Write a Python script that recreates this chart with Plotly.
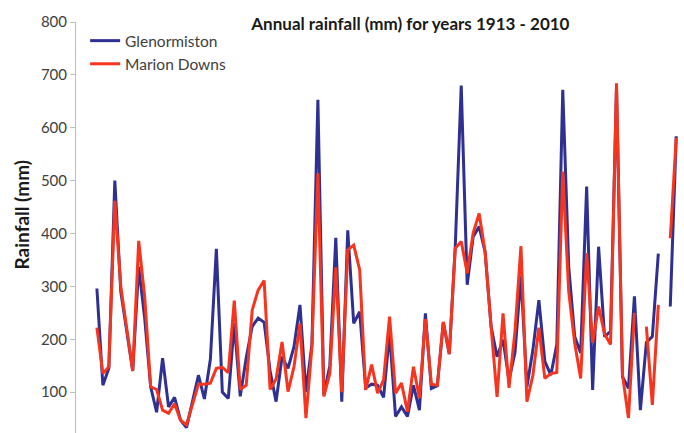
import plotly.graph_objects as go

years = list(range(1913, 2011))

glenormiston = [
    296, 113, 145, 500, 290, 210, 140, 337, 240, 110,
    62, 164, 72, 90, 47, 33, 80, 132, 87, 162,
    371, 100, 88, 230, 92, 165, 224, 240, 232, 140,
    82, 167, 145, 186, 265, 100, 190, 653, 95, 150,
    392, 82, 406, 230, 252, 108, 115, 113, 90, 212,
    54, 72, 54, 113, 66, 249, 107, 112, 232, 172,
    375, 680, 303, 394, 413, 365, 224, 167, 199, 123,
    175, 320, 110, 180, 274, 158, 132, 190, 672, 337,
    205, 174, 489, 104, 375, 205, 215, 675, 129, 107,
    281, 66, 194, 205, 362, None, 262, 584,
]

marion_downs = [
    222, 135, 148, 462, 300, 220, 140, 386, 280, 110,
    105, 66, 60, 78, 47, 38, 78, 115, 115, 117,
    145, 147, 137, 273, 105, 113, 255, 293, 311, 105,
    125, 195, 101, 148, 230, 51, 185, 514, 92, 135,
    336, 100, 369, 378, 331, 104, 152, 98, 123, 243,
    98, 117, 63, 148, 89, 238, 115, 113, 233, 172,
    372, 385, 325, 401, 438, 365, 224, 91, 249, 108,
    215, 376, 82, 132, 222, 126, 135, 137, 517, 290,
    193, 126, 363, 193, 262, 210, 190, 684, 133, 51,
    250, None, 224, 76, 265, None, 391, 581,
]

y_ticks = [100, 200, 300, 400, 500, 600, 700, 800]

fig = go.Figure()
fig.add_trace(go.Scatter(x=years, y=glenormiston, mode="lines", name="Glenormiston",
                         line=dict(color="#2E3192", width=3)))
fig.add_trace(go.Scatter(x=years, y=marion_downs, mode="lines", name="Marion Downs",
                         line=dict(color="#F7341E", width=3)))

font_family = "Lato, 'Open Sans', sans-serif"

fig.update_layout(
    width=684, height=433,
    margin=dict(l=76, r=0, t=22, b=0),
    paper_bgcolor="white", plot_bgcolor="white",
    font=dict(family=font_family, color="#404040"),
    title=dict(text="<b>Annual rainfall (mm) for years 1913 - 2010</b>",
               x=0.6, xanchor="center", y=0.945, yanchor="middle",
               font=dict(size=17, color="#1a1a1a")),
    legend=dict(x=0.015, y=0.995, xanchor="left", yanchor="top",
                bgcolor="rgba(0,0,0,0)", font=dict(size=15.5, color="#404040"),
                itemwidth=30),
    showlegend=True,
    annotations=[dict(text="<b>Rainfall (mm)</b>", textangle=-90,
                      xref="paper", yref="paper", x=-0.09, y=0.53,
                      xanchor="center", yanchor="middle", showarrow=False,
                      font=dict(size=19, color="#1a1a1a"))],
)

fig.update_xaxes(range=[1909.5, 2011.3], showticklabels=False, showgrid=False,
                 zeroline=False, showline=False, ticks="")
fig.update_yaxes(range=[22.7, 800], tickvals=y_ticks, showgrid=False, zeroline=False,
                 showline=True, linecolor="#BFBFBF", linewidth=1,
                 ticks="outside", ticklen=5, tickcolor="#BFBFBF",
                 tickfont=dict(size=15, color="#404040"))

fig.write_html("out.html", config={"displayModeBar": False},
               post_script="document.body.style.margin='0';")
